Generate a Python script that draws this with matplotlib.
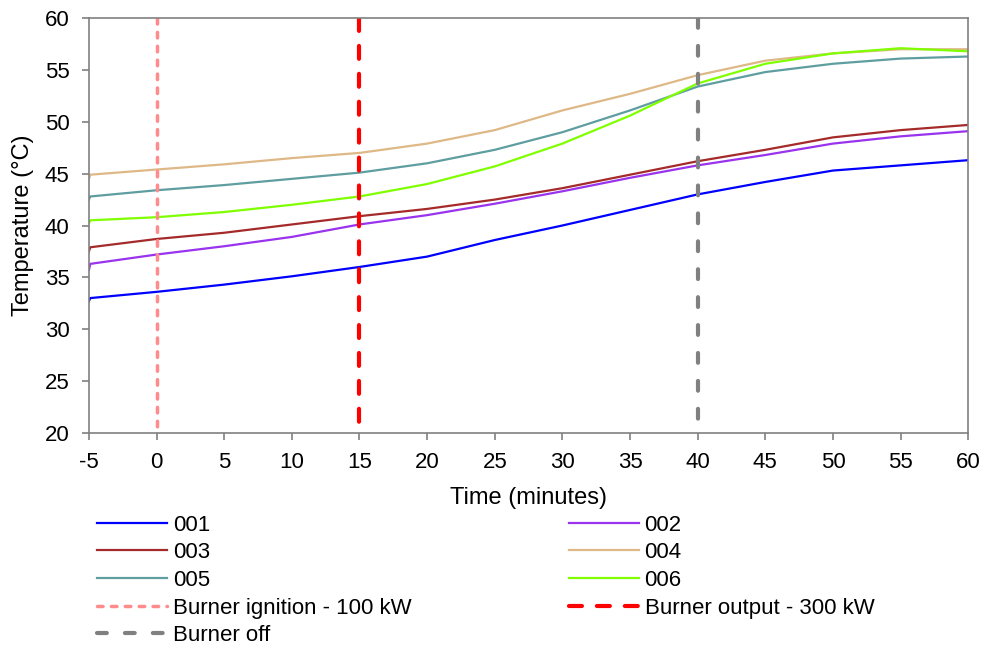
import matplotlib.pyplot as plt
import numpy as np

plt.rcParams['font.family'] = ['Liberation Sans', 'DejaVu Sans']
plt.rcParams['axes.unicode_minus'] = False

# time in minutes
t = [-5, -4.9, 0, 5, 10, 15, 20, 25, 30, 35, 40, 45, 50, 55, 60]

s001 = [32.7, 33.0, 33.6, 34.3, 35.1, 36.0, 37.0, 38.6, 40.0, 41.5, 43.0, 44.2, 45.3, 45.8, 46.3]
s002 = [35.7, 36.3, 37.2, 38.0, 38.9, 40.1, 41.0, 42.1, 43.3, 44.6, 45.8, 46.8, 47.9, 48.6, 49.1]
s003 = [37.5, 37.9, 38.7, 39.3, 40.1, 40.9, 41.6, 42.5, 43.6, 44.9, 46.2, 47.3, 48.5, 49.2, 49.7]
s004 = [44.5, 44.9, 45.4, 45.9, 46.5, 47.0, 47.9, 49.2, 51.1, 52.7, 54.5, 55.9, 56.6, 57.0, 57.0]
s005 = [42.5, 42.8, 43.4, 43.9, 44.5, 45.1, 46.0, 47.3, 49.0, 51.1, 53.4, 54.8, 55.6, 56.1, 56.3]
s006 = [40.2, 40.5, 40.8, 41.3, 42.0, 42.8, 44.0, 45.7, 47.9, 50.6, 53.7, 55.6, 56.6, 57.1, 56.8]

series = [('001', s001, '#0000ff'), ('002', s002, '#9933ee'),
          ('003', s003, '#a52a2a'), ('004', s004, '#deb887'),
          ('005', s005, '#5f9ea0'), ('006', s006, '#7fff00')]

events = [(0, 'Burner ignition - 100 kW', '#ff8c8c', 2.5, (0, (1.6, 2.4))),
          (15, 'Burner output - 300 kW', '#ff0000', 3.0, (0, (3.1, 3.6))),
          (40, 'Burner off', '#808080', 3.0, (0, (2.35, 4.35)))]

fig = plt.figure(figsize=(9.88, 6.48), dpi=100)
ax = fig.add_axes([0.090, 0.332, 0.890, 0.640])

handles = {}
for name, vals, col in series:
    h, = ax.plot(t, vals, color=col, lw=1.6)
    handles[name] = h
# vertical markers drawn top-down so the dash pattern starts at the top
for x0, name, col, w, ls in events:
    h, = ax.plot([x0, x0], [60, 20], color=col, lw=w, linestyle=ls,
                 dash_capstyle='round')
    handles[name] = h

ax.set_xlim(-5, 60)
ax.set_ylim(20, 60)
ax.set_xticks(np.arange(-5, 61, 5))
ax.set_yticks(np.arange(20, 61, 5))
for sp in ax.spines.values():
    sp.set_color('#808080')
    sp.set_linewidth(1.2)
ax.tick_params(axis='both', colors='#808080', labelcolor='black', labelsize=16,
               length=5, width=1.2)
ax.tick_params(axis='x', pad=9)
ax.tick_params(axis='y', pad=9)
ax.set_xlabel('Time (minutes)', fontsize=17, labelpad=10)
ax.set_ylabel('Temperature (°C)', fontsize=17, labelpad=8)

order = ['001', '003', '005', 'Burner ignition - 100 kW', 'Burner off',
         '002', '004', '006', 'Burner output - 300 kW']
fig.legend([handles[k] for k in order], order, loc='upper left',
           bbox_to_anchor=(0.098, 0.206), ncol=2, frameon=False,
           fontsize=16, handlelength=3.15, handletextpad=0.27,
           columnspacing=7.07, labelspacing=0.3, borderaxespad=0,
           borderpad=0)

fig.savefig('out.png', dpi=100)
